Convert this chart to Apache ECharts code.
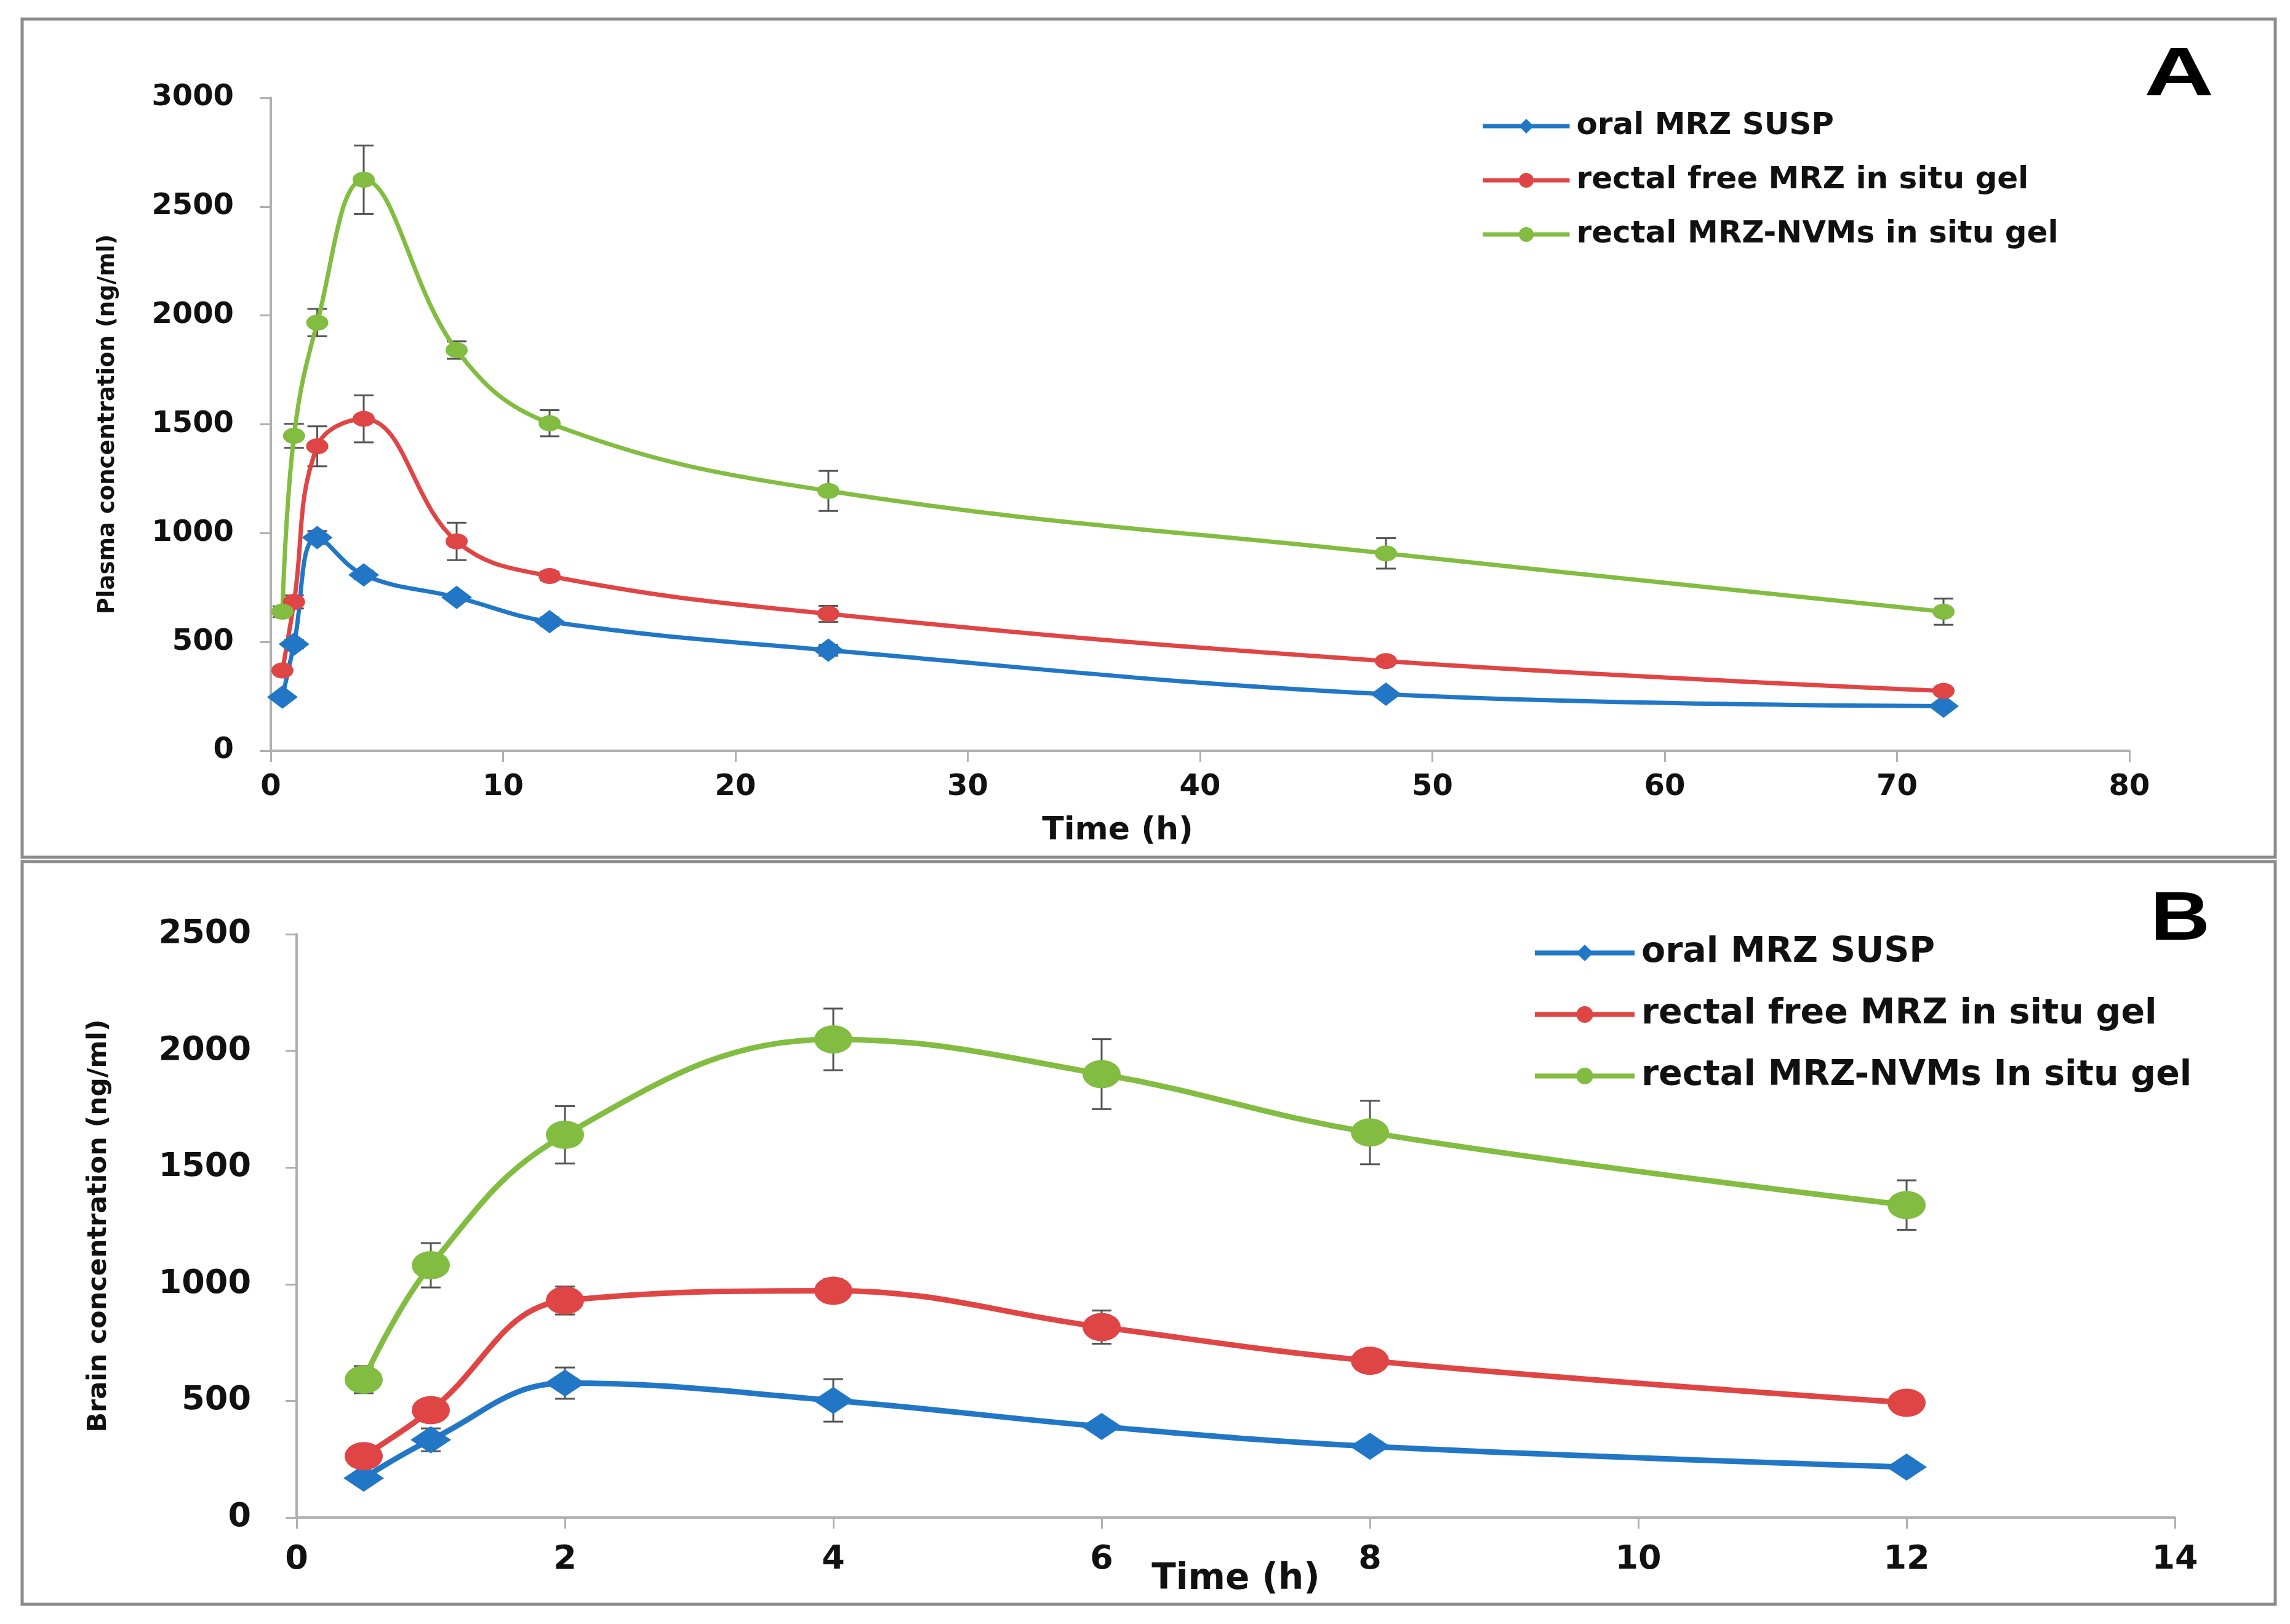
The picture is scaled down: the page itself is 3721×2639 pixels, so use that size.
<!DOCTYPE html>
<html>
<head>
<meta charset="utf-8">
<script src="https://cdn.jsdelivr.net/npm/echarts@6/dist/echarts.min.js"></script>
<style>
  html, body { margin: 0; padding: 0; background: #fff; }
  #chart { width: 3721px; height: 2639px; }
</style>
</head>
<body>
<div id="chart"></div>
<script>
// panel A - plasma
var timeA = [0.5, 1, 2, 4, 8, 12, 24, 48, 72];
var oralA = [247, 490, 980, 808, 705, 593, 462, 260, 205];
var freeA = [369, 684, 1399, 1525, 962, 803, 629, 412, 275];
var nvmA = [639, 1447, 1967, 2624, 1841, 1505, 1194, 907, 639];
var oralAErr = [10, 20, 30, 20, 15, 20, 25, 15, 10];
var freeAErr = [15, 30, 92, 108, 86, 20, 37, 10, 10];
var nvmAErr = [25, 55, 63, 157, 40, 60, 92, 70, 60];
var namesA = ['oral MRZ SUSP', 'rectal free MRZ in situ gel', 'rectal MRZ-NVMs in situ gel'];

// panel B - brain
var timeB = [0.5, 1, 2, 4, 6, 8, 12];
var oralB = [169, 333, 576, 502, 390, 305, 216];
var freeB = [263, 460, 930, 972, 816, 672, 492];
var nvmB = [591, 1081, 1640, 2049, 1900, 1650, 1339];
var oralBErr = [20, 49, 67, 91, 25, 20, 15];
var freeBErr = [20, 25, 60, 50, 71, 20, 15];
var nvmBErr = [58, 95, 123, 132, 150, 136, 106];
var namesB = ['oral MRZ SUSP', 'rectal free MRZ in situ gel', 'rectal MRZ-NVMs In situ gel'];

var colors = ['#2177C6', '#E04545', '#82BC41'];
var font = 'DejaVu Sans';

function pairs(xs, ys) {
    return xs.map(function (x, i) { return [x, ys[i]]; });
}
function bars(xs, ys, es) {
    return xs.map(function (x, i) { return [x, ys[i] - es[i], ys[i] + es[i]]; });
}
function errorBar(params, api) {
    var x = api.value(0);
    var lo = api.coord([x, api.value(1)]);
    var hi = api.coord([x, api.value(2)]);
    var cap = 16;
    var st = { stroke: '#555', lineWidth: 3 };
    return {
        type: 'group',
        children: [
            { type: 'line', shape: { x1: lo[0], y1: lo[1], x2: hi[0], y2: hi[1] }, style: st },
            { type: 'line', shape: { x1: lo[0] - cap, y1: lo[1], x2: lo[0] + cap, y2: lo[1] }, style: st },
            { type: 'line', shape: { x1: hi[0] - cap, y1: hi[1], x2: hi[0] + cap, y2: hi[1] }, style: st }
        ]
    };
}
function lineSeries(name, idx, data, color, symbol, size, width) {
    return {
        name: name, type: 'line', xAxisIndex: idx, yAxisIndex: idx,
        data: data, smooth: 0.4, symbol: symbol, symbolSize: size,
        showAllSymbol: true, z: 3,
        lineStyle: { color: color, width: width },
        itemStyle: { color: color, borderWidth: 0 }
    };
}
function errSeries(idx, data) {
    return {
        type: 'custom', xAxisIndex: idx, yAxisIndex: idx, data: data,
        renderItem: errorBar, z: 2, silent: true
    };
}
function axisStyle(fontSize, margin) {
    return {
        axisLine: { show: true, lineStyle: { color: '#b0b0b0', width: 4 } },
        axisTick: { show: true, length: 18, lineStyle: { color: '#b0b0b0', width: 3 } },
        axisLabel: {
            color: '#111', fontFamily: font, fontWeight: 'bold', fontSize: fontSize, margin: margin,
            formatter: function (v) { return String(v); }
        },
        splitLine: { show: false }
    };
}

var dom = document.getElementById('chart');
var myChart = echarts.init(dom);

var xA = Object.assign({ type: 'value', gridIndex: 0, min: 0, max: 80, interval: 10,
    name: 'Time (h)', nameLocation: 'middle', nameGap: 104,
    nameTextStyle: { color: '#111', fontFamily: font, fontWeight: 'bold', fontSize: 52, padding: [0, 268, 0, 0] } },
    axisStyle(48, 36));
var yA = Object.assign({ type: 'value', gridIndex: 0, min: 0, max: 3000, interval: 500,
    name: 'Plasma concentration (ng/ml)', nameLocation: 'middle', nameGap: 246,
    nameTextStyle: { color: '#111', fontFamily: font, fontWeight: 'bold', fontSize: 37 } },
    axisStyle(48, 60));
var xB = Object.assign({ type: 'value', gridIndex: 1, min: 0, max: 14, interval: 2,
    name: 'Time (h)', nameLocation: 'middle', nameGap: 72, nameMoveOverlap: false,
    nameTextStyle: { color: '#111', fontFamily: font, fontWeight: 'bold', fontSize: 58 } },
    axisStyle(54, 42));
var yB = Object.assign({ type: 'value', gridIndex: 1, min: 0, max: 2500, interval: 500,
    name: 'Brain concentration (ng/ml)', nameLocation: 'middle', nameGap: 300,
    nameTextStyle: { color: '#111', fontFamily: font, fontWeight: 'bold', fontSize: 43 } },
    axisStyle(54, 74));

var option = {
    backgroundColor: '#fff',
    animation: false,
    grid: [
        { left: 440, top: 159, width: 3020, height: 1061 },
        { left: 482, top: 1518, width: 3052, height: 948 }
    ],
    xAxis: [xA, xB],
    yAxis: [yA, yB],
    legend: [
        {
            orient: 'vertical', left: 2401, top: 175, itemWidth: 141, itemHeight: 30, itemGap: 38,
            data: namesA, lineStyle: { width: 7 },
            textStyle: { color: '#111', fontFamily: font, fontWeight: 'bold', fontSize: 50, padding: [0, 0, 0, 6] }
        },
        {
            orient: 'vertical', left: 2485, top: 1515, itemWidth: 162, itemHeight: 34, itemGap: 43,
            data: namesB, lineStyle: { width: 8 },
            textStyle: { color: '#111', fontFamily: font, fontWeight: 'bold', fontSize: 57, padding: [0, 0, 0, 6] }
        }
    ],
    graphic: [
        { type: 'rect', shape: { x: 36, y: 31, width: 3661, height: 1362 }, style: { fill: 'none', stroke: '#8c8c8c', lineWidth: 5 }, z: -1 },
        { type: 'rect', shape: { x: 36, y: 1400, width: 3661, height: 1207 }, style: { fill: 'none', stroke: '#8c8c8c', lineWidth: 5 }, z: -1 },
        { type: 'text', x: 3484, y: 68, scaleX: 1.4, style: { text: 'A', font: 'bold 112px "Liberation Sans"', fill: '#000' } },
        { type: 'text', x: 3494, y: 1440, scaleX: 1.2, style: { text: 'B', font: 'bold 112px "Liberation Sans"', fill: '#000' } }
    ],
    series: [
        errSeries(0, bars(timeA, oralA, oralAErr)),
        errSeries(0, bars(timeA, freeA, freeAErr)),
        errSeries(0, bars(timeA, nvmA, nvmAErr)),
        lineSeries(namesA[0], 0, pairs(timeA, oralA), colors[0], 'diamond', [50, 38], 7),
        lineSeries(namesA[1], 0, pairs(timeA, freeA), colors[1], 'circle', [36, 26], 7),
        lineSeries(namesA[2], 0, pairs(timeA, nvmA), colors[2], 'circle', [36, 26], 7),
        errSeries(1, bars(timeB, oralB, oralBErr)),
        errSeries(1, bars(timeB, freeB, freeBErr)),
        errSeries(1, bars(timeB, nvmB, nvmBErr)),
        lineSeries(namesB[0], 1, pairs(timeB, oralB), colors[0], 'diamond', [66, 44], 9),
        lineSeries(namesB[1], 1, pairs(timeB, freeB), colors[1], 'circle', [62, 46], 9),
        lineSeries(namesB[2], 1, pairs(timeB, nvmB), colors[2], 'circle', [62, 46], 9)
    ]
};
myChart.setOption(option, true);
</script>
</body>
</html>
